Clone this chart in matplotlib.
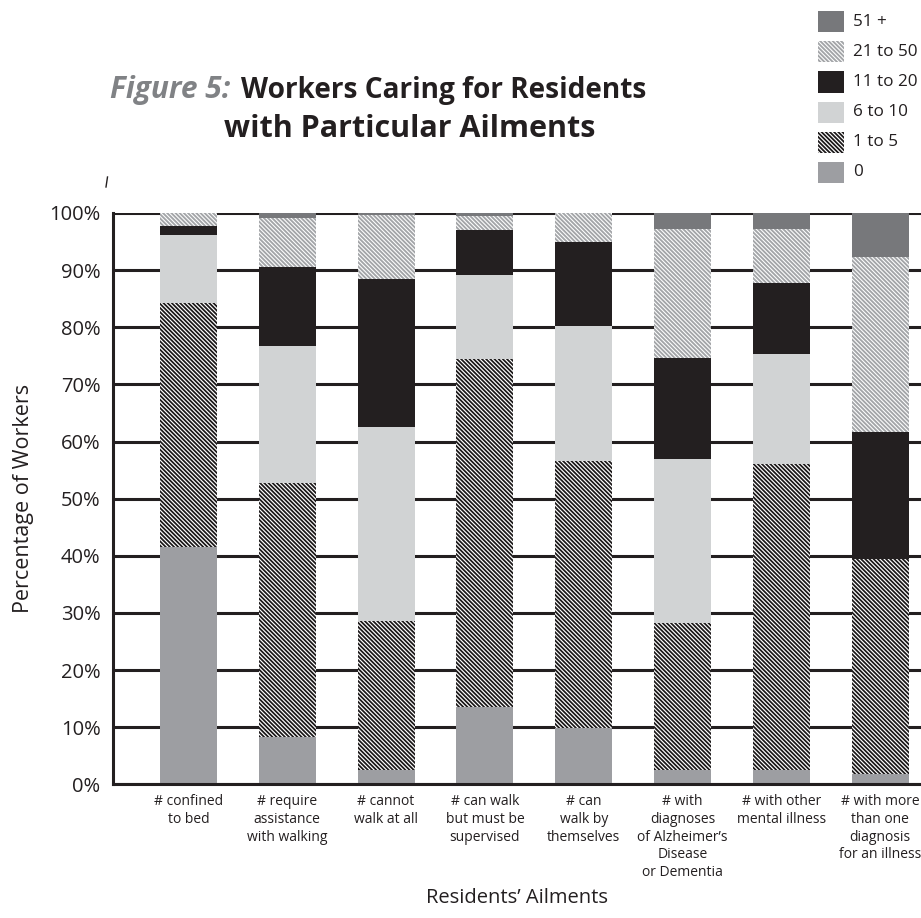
import matplotlib
matplotlib.use("Agg")
import matplotlib.pyplot as plt
from matplotlib.patches import Rectangle
from matplotlib.lines import Line2D
import numpy as np

plt.rcParams['font.family'] = ['Open Sans', 'DejaVu Sans']
plt.rcParams['hatch.linewidth'] = 1.0

categories = ["# confined\nto bed", "# require\nassistance\nwith walking", "# cannot\nwalk at all",
              "# can walk\nbut must be\nsupervised", "# can\nwalk by\nthemselves",
              "# with\ndiagnoses\nof Alzheimer\u2019s\nDisease\nor Dementia",
              "# with other\nmental illness", "# with more\nthan one\ndiagnosis\nfor an illness"]

series_labels = ["0", "1 to 5", "6 to 10", "11 to 20", "21 to 50", "51 +"]
v_0 = [41.5, 8.2, 2.5, 13.5, 9.9, 2.5, 2.5, 1.8]
v_1_5 = [42.7, 44.5, 26.1, 61.0, 46.7, 25.7, 53.6, 37.7]
v_6_10 = [11.9, 24.1, 33.9, 14.6, 23.6, 28.7, 19.3, 0.0]
v_11_20 = [1.6, 13.8, 26.0, 7.9, 14.7, 17.7, 12.4, 22.2]
v_21_50 = [2.3, 8.5, 11.2, 2.5, 5.1, 22.6, 9.4, 30.6]
v_51 = [0.0, 0.9, 0.3, 0.5, 0.0, 2.8, 2.8, 7.7]
series_values = [v_0, v_1_5, v_6_10, v_11_20, v_21_50, v_51]

yticks = [0, 10, 20, 30, 40, 50, 60, 70, 80, 90, 100]
ytick_labels = [f"{t}%" for t in yticks]

styles = [
    dict(facecolor="#9d9ea2", edgecolor="#9d9ea2", hatch=None, hlw=1.0),
    dict(facecolor="#1a1718", edgecolor="#ffffff", hatch="\\" * 8, hlw=0.85),
    dict(facecolor="#d1d3d4", edgecolor="#d1d3d4", hatch=None, hlw=1.0),
    dict(facecolor="#231f20", edgecolor="#231f20", hatch=None, hlw=1.0),
    dict(facecolor="#ffffff", edgecolor="#a3a5a8", hatch="\\" * 8, hlw=1.35),
    dict(facecolor="#77787b", edgecolor="#77787b", hatch=None, hlw=1.0),
]


def set_hlw(patch, lw):
    if hasattr(patch, "set_hatch_linewidth"):
        patch.set_hatch_linewidth(lw)


W, H = 921, 918
fig = plt.figure(figsize=(W / 100, H / 100), dpi=100)
ax = fig.add_axes([113 / W, (H - 784.3) / H, (W - 113) / W, (784.3 - 213) / H])

x = np.arange(len(categories))
bottom = np.zeros(len(categories))
for vals, st in zip(series_values, styles):
    vals = np.array(vals)
    with plt.rc_context({"hatch.linewidth": st["hlw"]}):
        bars = ax.bar(x, vals, bottom=bottom, width=0.577, linewidth=0, zorder=3,
                      facecolor=st["facecolor"], edgecolor=st["edgecolor"], hatch=st["hatch"])
    for b in bars:
        set_hlw(b, st["hlw"])
    bottom += vals

ax.set_xlim(-0.764, 7.414)
ax.set_ylim(0, 100)
ax.set_yticks(yticks)
ax.set_yticklabels(ytick_labels, fontsize=14.5, color="#231f20")
ax.set_xticks(x)
ax.set_xticklabels(categories, fontsize=10, color="#231f20", linespacing=1.25, va="top")
ax.tick_params(axis="both", length=0)
ax.tick_params(axis="y", pad=9)
ax.tick_params(axis="x", pad=7)
ax.yaxis.grid(True, color="#231f20", linewidth=2.2, zorder=0)
ax.set_axisbelow(True)
for s in ["top", "right"]:
    ax.spines[s].set_visible(False)
for s in ["left", "bottom"]:
    ax.spines[s].set_linewidth(2.2)
    ax.spines[s].set_color("#231f20")
    ax.spines[s].set_zorder(4)

ax.set_ylabel("Percentage of Workers", fontsize=15.5, color="#231f20", labelpad=11)
ax.set_xlabel("Residents\u2019 Ailments", fontsize=14.5, color="#231f20", labelpad=6)

# Title
fig.text(110 / W, 1 - 98 / H, "Figure 5:", fontsize=21.5, fontweight="bold", fontstyle="italic",
         color="#808285", ha="left", va="baseline")
fig.text(241 / W, 1 - 98 / H, "Workers Caring for Residents", fontsize=20.2, fontweight="bold",
         color="#231f20", ha="left", va="baseline")
fig.text(410 / W, 1 - 137 / H, "with Particular Ailments", fontsize=22, fontweight="bold",
         color="#231f20", ha="center", va="baseline")
fig.add_artist(Line2D([106 / W, 107.5 / W], [1 - 187 / H, 1 - 177 / H], color="#231f20", linewidth=1))

# Legend
centers = [172.5, 142.5, 112.5, 82, 51.5, 21.5]
for lab, st, cy in zip(series_labels, styles, centers):
    with plt.rc_context({"hatch.linewidth": st["hlw"]}):
        r = Rectangle((818 / W, 1 - (cy + 10.5) / H), 25.5 / W, 21 / H, transform=fig.transFigure,
                      facecolor=st["facecolor"], edgecolor=st["edgecolor"], hatch=st["hatch"], linewidth=0)
    set_hlw(r, st["hlw"])
    fig.add_artist(r)
    fig.text(853 / W, 1 - cy / H, lab, fontsize=12.3, color="#231f20", ha="left", va="center")

fig.savefig("out.png", dpi=100)
